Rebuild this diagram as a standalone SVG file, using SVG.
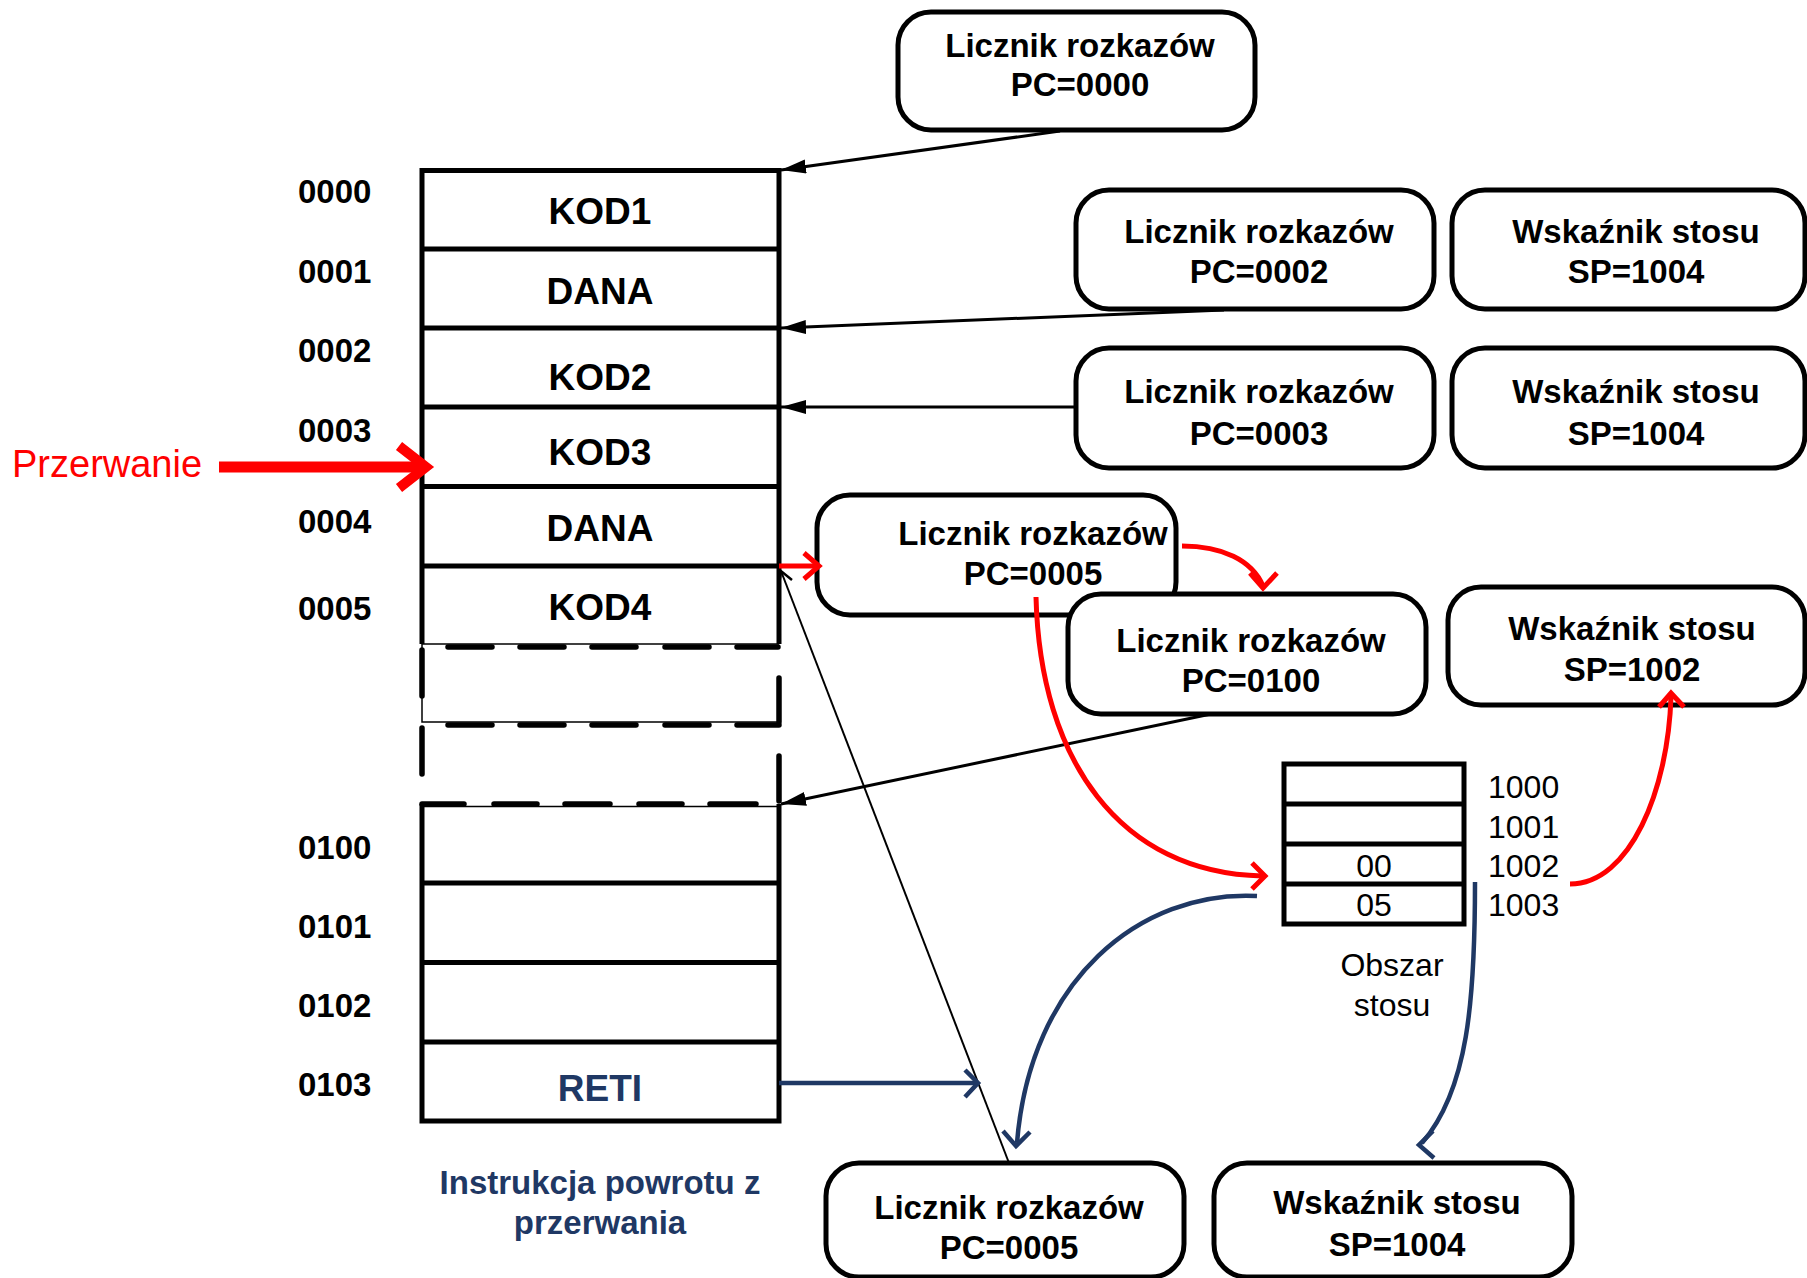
<svg xmlns="http://www.w3.org/2000/svg" width="1807" height="1278" viewBox="0 0 1807 1278">
  <style>
    .box { fill: #fff; stroke: #000; stroke-width: 5; }
    .bt { font-family: "Liberation Sans", Arial, sans-serif; font-weight: bold; font-size: 33px; text-anchor: middle; fill: #000; }
    .addr { font-family: "Liberation Sans", Arial, sans-serif; font-weight: bold; font-size: 33px; fill: #000; }
    .cell { font-family: "Liberation Sans", Arial, sans-serif; font-weight: bold; font-size: 37px; text-anchor: middle; fill: #000; }
    .stk { font-family: "Liberation Sans", Arial, sans-serif; font-size: 32px; fill: #000; }
    .mid { text-anchor: middle; }
    .wall { fill: none; stroke: #000; stroke-width: 5; }
    .thin { fill: none; stroke: #000; stroke-width: 1.5; }
    .dash { fill: none; stroke: #000; stroke-width: 5.5; stroke-linecap: round; }
    .blk { fill: none; stroke: #000; stroke-width: 3; }
    .red { fill: none; stroke: #f00; stroke-width: 5; }
    .navy { fill: none; stroke: #1f3864; stroke-width: 4.5; }
  </style>
  <defs>
    <marker id="tri" markerUnits="userSpaceOnUse" markerWidth="26" markerHeight="16" refX="25" refY="7" orient="auto">
      <path d="M0,0 L25,7 L0,14 z" fill="#000"/>
    </marker>
  </defs>

  <!-- memory: program area 0000..0005 -->
  <g id="memory">
    <rect x="422" y="170.5" width="357" height="473.5" fill="#fff" stroke="none"/>
    <path class="wall" d="M422,644 V170.5 H779 V644"/>
    <path class="wall" d="M422,249 H779 M422,328 H779 M422,407 H779 M422,486.5 H779 M422,566 H779"/>
    <line class="thin" x1="422" y1="644" x2="779" y2="644"/>
    <text class="addr" x="298" y="203">0000</text>
    <text class="addr" x="298" y="283">0001</text>
    <text class="addr" x="298" y="362">0002</text>
    <text class="addr" x="298" y="442">0003</text>
    <text class="addr" x="298" y="533">0004</text>
    <text class="addr" x="298" y="620">0005</text>
    <text class="cell" x="600" y="224">KOD1</text>
    <text class="cell" x="600" y="304">DANA</text>
    <text class="cell" x="600" y="390">KOD2</text>
    <text class="cell" x="600" y="465">KOD3</text>
    <text class="cell" x="600" y="541">DANA</text>
    <text class="cell" x="600" y="620">KOD4</text>

    <!-- skipped address range -->
    <path class="thin" d="M422,644 V722 H779"/>
    <path class="dash" d="M448,647 H492 M520,647 H564 M592,647 H636 M665,647 H709 M737,647 H778"/>
    <path class="dash" d="M448,725 H492 M520,725 H564 M592,725 H636 M665,725 H709 M737,725 H779"/>
    <path class="dash" d="M422,650 V696 M422,728 V774 M779,678 V722 M779,756 V801"/>
    <path class="dash" d="M422,804 H464 M494,804 H537 M565,804 H610 M639,804 H682 M710,804 H756"/>
    <line class="thin" x1="422" y1="806.5" x2="779" y2="806.5"/>

    <!-- interrupt handler 0100..0103 -->
    <path class="wall" d="M422,804 V1121 H779 V804"/>
    <path class="wall" d="M422,883 H779 M422,962.5 H779 M422,1042 H779"/>
    <text class="addr" x="298" y="859">0100</text>
    <text class="addr" x="298" y="938">0101</text>
    <text class="addr" x="298" y="1017">0102</text>
    <text class="addr" x="298" y="1096">0103</text>
    <text class="cell" x="600" y="1101" fill="#1f3864" style="fill:#1f3864">RETI</text>
    <text class="bt" x="600" y="1194" style="fill:#1f3864">Instrukcja powrotu z</text>
    <text class="bt" x="600" y="1234" style="fill:#1f3864">przerwania</text>
  </g>

  <g id="interrupt">
    <text x="12" y="477" font-family="Liberation Sans, Arial, sans-serif" font-size="38" fill="#f00">Przerwanie</text>
    <line x1="219" y1="467" x2="420" y2="467" stroke="#f00" stroke-width="11"/>
    <path d="M399,446 L426,467 L399,488" fill="none" stroke="#f00" stroke-width="10"/>
  </g>

  <g id="pc-0000">
    <rect class="box" x="898" y="12" width="357" height="118" rx="33"/>
    <text class="bt" x="1080" y="57">Licznik rozkazów</text>
    <text class="bt" x="1080" y="96">PC=0000</text>
  </g>
  <g id="pc-0002">
    <rect class="box" x="1076" y="190" width="358" height="119" rx="33"/>
    <text class="bt" x="1259" y="243">Licznik rozkazów</text>
    <text class="bt" x="1259" y="283">PC=0002</text>
  </g>
  <g id="sp-1004-a">
    <rect class="box" x="1452" y="190" width="353" height="119" rx="33"/>
    <text class="bt" x="1636" y="243">Wskaźnik stosu</text>
    <text class="bt" x="1636" y="283">SP=1004</text>
  </g>
  <g id="pc-0003">
    <rect class="box" x="1076" y="348" width="358" height="120" rx="33"/>
    <text class="bt" x="1259" y="403">Licznik rozkazów</text>
    <text class="bt" x="1259" y="445">PC=0003</text>
  </g>
  <g id="sp-1004-b">
    <rect class="box" x="1452" y="348" width="353" height="120" rx="33"/>
    <text class="bt" x="1636" y="403">Wskaźnik stosu</text>
    <text class="bt" x="1636" y="445">SP=1004</text>
  </g>
  <g id="pc-0005-a">
    <rect class="box" x="817" y="495" width="359" height="120" rx="33"/>
    <text class="bt" x="1033" y="545">Licznik rozkazów</text>
    <text class="bt" x="1033" y="585">PC=0005</text>
  </g>
  <g id="pc-0100">
    <rect class="box" x="1068" y="594" width="358" height="120" rx="33"/>
    <text class="bt" x="1251" y="652">Licznik rozkazów</text>
    <text class="bt" x="1251" y="692">PC=0100</text>
  </g>
  <g id="sp-1002">
    <rect class="box" x="1448" y="587" width="357" height="118" rx="33"/>
    <text class="bt" x="1632" y="640">Wskaźnik stosu</text>
    <text class="bt" x="1632" y="681">SP=1002</text>
  </g>

  <g id="stack">
    <rect x="1284" y="764" width="180" height="160" fill="#fff" stroke="#000" stroke-width="5"/>
    <path class="wall" d="M1284,804 H1464 M1284,844 H1464 M1284,884 H1464"/>
    <text class="stk mid" x="1374" y="877">00</text>
    <text class="stk mid" x="1374" y="916">05</text>
    <text class="stk" x="1488" y="798">1000</text>
    <text class="stk" x="1488" y="838">1001</text>
    <text class="stk" x="1488" y="877">1002</text>
    <text class="stk" x="1488" y="916">1003</text>
    <text class="stk mid" x="1392" y="976">Obszar</text>
    <text class="stk mid" x="1392" y="1016">stosu</text>
  </g>

  <g id="pc-0005-b">
    <rect class="box" x="826" y="1163" width="358" height="114" rx="33"/>
    <text class="bt" x="1009" y="1219">Licznik rozkazów</text>
    <text class="bt" x="1009" y="1259">PC=0005</text>
  </g>
  <g id="sp-1004-c">
    <rect class="box" x="1214" y="1163" width="358" height="114" rx="33"/>
    <text class="bt" x="1397" y="1214">Wskaźnik stosu</text>
    <text class="bt" x="1397" y="1256">SP=1004</text>
  </g>

  <g id="connectors">
    <!-- program counter pointers into memory -->
    <line class="blk" x1="1060" y1="131" x2="781" y2="170" marker-end="url(#tri)"/>
    <line class="blk" x1="1224" y1="310" x2="781" y2="328" marker-end="url(#tri)"/>
    <line class="blk" x1="1076" y1="407" x2="781" y2="407" marker-end="url(#tri)"/>
    <line class="blk" x1="1211" y1="714" x2="781" y2="804" marker-end="url(#tri)"/>
    <!-- return address after RETI -->
    <path d="M1009,1163 L781,571" fill="none" stroke="#000" stroke-width="2"/>
    <path d="M779,585 L781,571 L792,580" fill="none" stroke="#000" stroke-width="2.5"/>

    <!-- interrupt entry -->
    <line class="red" x1="779" y1="566" x2="818" y2="566"/>
    <path class="red" d="M804,553 L819,566 L804,579"/>
    <path class="red" d="M1182,546 C1222,546 1252,560 1263,586"/>
    <path class="red" d="M1250,573 L1263,588 L1277,573"/>
    <path class="red" d="M1036,597 C1040,760 1120,873 1262,876"/>
    <path class="red" d="M1252,863 L1265,876 L1252,889"/>
    <path class="red" d="M1570,884 C1630,884 1668,790 1671,697"/>
    <path class="red" d="M1659,707 L1671,693 L1684,707"/>

    <!-- return from interrupt -->
    <line class="navy" x1="779" y1="1083" x2="975" y2="1083"/>
    <path class="navy" d="M965,1070 L978,1083 L965,1097"/>
    <path class="navy" d="M1257,896 C1140,890 1030,980 1017,1143"/>
    <path class="navy" d="M1003,1131 L1016,1146 L1030,1132"/>
    <path class="navy" d="M1475,882 C1475,1000 1468,1090 1422,1143"/>
    <path class="navy" d="M1433,1131 L1419,1145 L1434,1158"/>
  </g>
</svg>
